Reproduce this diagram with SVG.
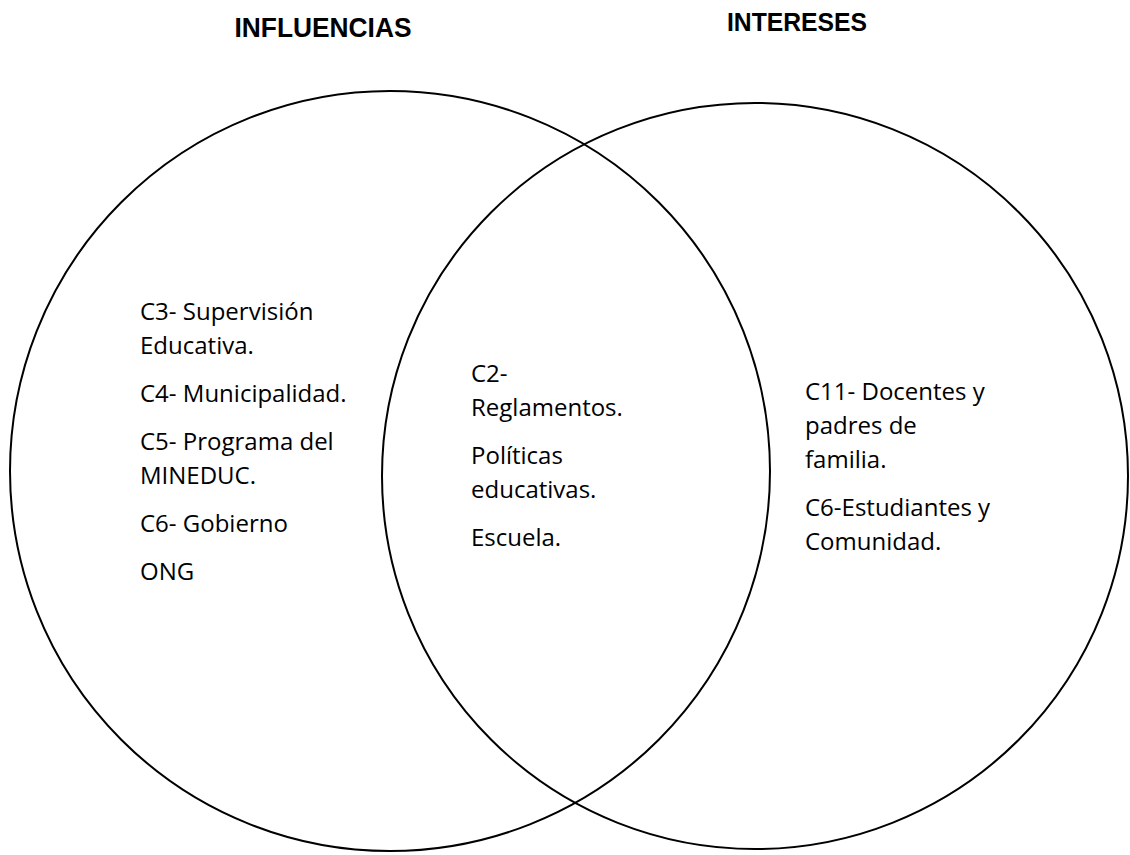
<svg xmlns="http://www.w3.org/2000/svg" width="1130" height="855" viewBox="0 0 1130 855">
<style>
.c{fill:none;stroke:#000;stroke-width:2}
.t{font-family:"Open Sans","Noto Sans",sans-serif;font-size:24px;fill:#000}
.h{font-family:"Liberation Sans",Arial,sans-serif;font-size:27px;font-weight:bold;fill:#000;text-anchor:middle}
</style>
<rect width="1130" height="855" fill="#fff"/>
<g id="titles">
<text class="h" x="323" y="37" textLength="177" lengthAdjust="spacingAndGlyphs">INFLUENCIAS</text>
<text class="h" x="797" y="31" style="font-size:25px" textLength="140" lengthAdjust="spacingAndGlyphs">INTERESES</text>
</g>
<g id="influencias">
<circle class="c" cx="390" cy="471" r="380"/>
<text class="t" x="140" y="320">C3- Supervisión</text>
<text class="t" x="140" y="354">Educativa.</text>
<text class="t" x="140" y="402">C4- Municipalidad.</text>
<text class="t" x="140" y="450">C5- Programa del</text>
<text class="t" x="140" y="484">MINEDUC.</text>
<text class="t" x="140" y="532">C6- Gobierno</text>
<text class="t" x="140" y="580">ONG</text>
</g>
<g id="intereses">
<circle class="c" cx="755" cy="476" r="373"/>
<text class="t" x="805" y="400">C11- Docentes y</text>
<text class="t" x="805" y="434">padres de</text>
<text class="t" x="805" y="468">familia.</text>
<text class="t" x="805" y="516">C6-Estudiantes y</text>
<text class="t" x="805" y="550">Comunidad.</text>
</g>
<g id="comun">
<text class="t" x="471" y="382">C2-</text>
<text class="t" x="471" y="416">Reglamentos.</text>
<text class="t" x="471" y="464">Políticas</text>
<text class="t" x="471" y="498">educativas.</text>
<text class="t" x="471" y="546">Escuela.</text>
</g>
<g id="connectors"></g>
</svg>
